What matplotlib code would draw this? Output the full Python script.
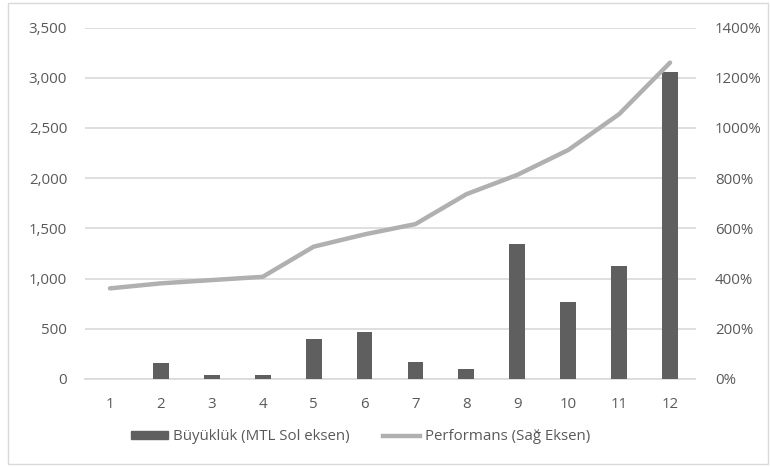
import matplotlib
matplotlib.use("Agg")
import matplotlib.pyplot as plt
from matplotlib.ticker import FuncFormatter, MultipleLocator
from matplotlib.patches import Rectangle
from matplotlib.lines import Line2D

categories = [1, 2, 3, 4, 5, 6, 7, 8, 9, 10, 11, 12]
buyukluk = [0, 162, 40, 40, 398, 468, 172, 96, 1341, 770, 1125, 3060]
performans = [361, 381, 394, 407, 527, 576, 617, 736, 813, 912, 1055, 1260]
bar_label = "Büyüklük (MTL Sol eksen)"
line_label = "Performans (Sağ Eksen)"

plt.rcParams['font.family'] = ['Open Sans', 'DejaVu Sans']
txt = '#595959'

fig = plt.figure(figsize=(7.7, 4.68), dpi=100)
ax = fig.add_axes([84.5/770, 1-379/468, (695.5-84.5)/770, (379-27.5)/468])
ax2 = ax.twinx()

ax.bar(categories, buyukluk, width=0.31, color='#5f5f5f', zorder=3)
ax.set_xlim(0.5, 12.5)
ax.set_ylim(0, 3500)
ax.yaxis.set_major_locator(MultipleLocator(500))
ax.yaxis.set_major_formatter(FuncFormatter(lambda v, p: f"{int(v):,}"))
ax.grid(axis='y', color='#d9d9d9', linewidth=1.2, zorder=0)
ax.set_axisbelow(True)

ax2.plot(categories, performans, color='#b0b0b0', linewidth=3.2, solid_capstyle='round', zorder=4)
ax2.set_ylim(0, 1400)
ax2.yaxis.set_major_locator(MultipleLocator(200))
ax2.yaxis.set_major_formatter(FuncFormatter(lambda v, p: f"{int(v)}%"))

for a in (ax, ax2):
    for s in a.spines.values():
        s.set_visible(False)
    a.tick_params(length=0, colors=txt, labelsize=10.8)
ax.spines['bottom'].set_visible(True)
ax.spines['bottom'].set_color('#d9d9d9')
ax.spines['bottom'].set_linewidth(1.2)
ax.set_xticks(categories)
ax.tick_params(axis='x', pad=13)
ax.tick_params(axis='y', pad=12.5)
ax2.tick_params(axis='y', pad=14)

handles = [Rectangle((0, 0), 1, 1, color='#5f5f5f'),
           Line2D([0], [0], color='#b0b0b0', linewidth=3.2)]
leg = fig.legend(handles, [bar_label, line_label], loc='center', ncol=2,
                 bbox_to_anchor=(0.468, 1-437/468), frameon=False,
                 handlelength=2.5, handleheight=0.45, handletextpad=0.3,
                 columnspacing=2.2, fontsize=10.8)
for t in leg.get_texts():
    t.set_color(txt)

fig.patches.append(Rectangle((8/770, 4/468), 760/770, 461/468, transform=fig.transFigure,
                             fill=False, edgecolor='#d9d9d9', linewidth=1))
fig.savefig('out.png', dpi=100)
